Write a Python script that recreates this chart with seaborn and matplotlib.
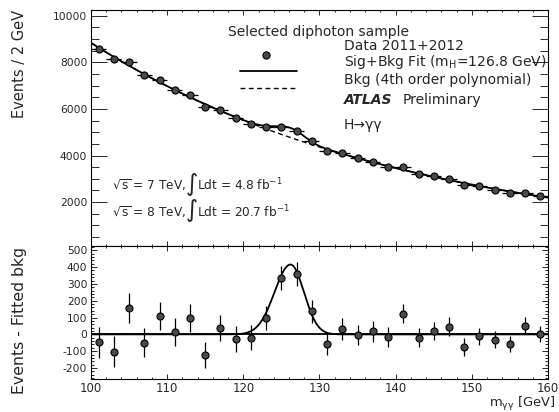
import numpy as np
import matplotlib
matplotlib.use("Agg")
import matplotlib.pyplot as plt
from matplotlib.ticker import MultipleLocator, FixedLocator
from matplotlib.lines import Line2D
import seaborn as sns

# Diphoton invariant mass spectrum, 2 GeV bins
mass = [101, 103, 105, 107, 109, 111, 113, 115, 117, 119,
        121, 123, 125, 127, 129, 131, 133, 135, 137, 139,
        141, 143, 145, 147, 149, 151, 153, 155, 157, 159]
events = [8582, 8129, 8009, 7438, 7253, 6826, 6598, 6079, 5953, 5617,
          5366, 5238, 5241, 5037, 4603, 4204, 4102, 3882, 3728, 3528,
          3506, 3210, 3105, 2993, 2739, 2677, 2538, 2398, 2399, 2248]
events_err = [93, 90, 89, 86, 85, 83, 81, 78, 77, 75,
              73, 72, 72, 71, 68, 65, 64, 62, 61, 59,
              59, 57, 56, 55, 52, 52, 50, 49, 49, 47]
# Data minus the fitted background component
residual = [-48, -102, 158, -50, 110, 12, 98, -122, 36, -28,
            -20, 98, 336, 356, 136, -60, 32, -4, 18, -14,
            124, -20, 20, 46, -76, -12, -32, -58, 52, 4]
bin_half_width = 1.0

# Signal component of the fit
MH = 126.8
SIG_PEAK_SHIFT = -0.6      # mode of the resolution shape sits below m_H
SIG_AMP = 415.0
SIG_SIGMA_LO = 2.1
SIG_SIGMA_HI = 1.75


def signal(x):
    mode = MH + SIG_PEAK_SHIFT
    sig = np.where(x < mode, SIG_SIGMA_LO, SIG_SIGMA_HI)
    return SIG_AMP * np.exp(-0.5 * ((x - mode) / sig) ** 2)


mass_a = np.array(mass, dtype=float)
events_a = np.array(events, dtype=float)
resid_a = np.array(residual, dtype=float)
err_a = np.array(events_err, dtype=float)

# 4th order polynomial background
bkg_coef = np.polyfit(mass_a, events_a - resid_a, 4)
xf = np.linspace(100, 160, 601)
bkg_curve = np.polyval(bkg_coef, xf)
sig_curve = signal(xf)

sns.set_theme(style="ticks")
plt.rcParams["font.family"] = ["DejaVu Sans"]
plt.rcParams["mathtext.default"] = "regular"
plt.rcParams["axes.linewidth"] = 0.8
plt.rcParams["axes.unicode_minus"] = False

W, H = 559, 412
fig = plt.figure(figsize=(W / 100, H / 100), dpi=100)
fig.patch.set_facecolor("white")


def fx(x):
    return x / W


def fy(y):
    return 1 - y / H


ax_top = fig.add_axes([fx(91), fy(246), (548 - 91) / W, (246 - 10) / H])
ax_bot = fig.add_axes([fx(91), fy(379), (548 - 91) / W, (379 - 246) / H])

mcol = "#4a4a4a"

# ---- upper panel: spectrum with fit
sns.lineplot(x=xf, y=bkg_curve, ax=ax_top, color="black", lw=1.0,
             linestyle=(0, (3.5, 2.5)), zorder=2)
sns.lineplot(x=xf, y=bkg_curve + sig_curve, ax=ax_top, color="black",
             lw=1.3, zorder=3)
ax_top.errorbar(mass_a, events_a, yerr=err_a, xerr=bin_half_width, fmt="none",
                ecolor="black", elinewidth=0.9, capsize=0, zorder=4)
sns.scatterplot(x=mass_a, y=events_a, ax=ax_top, s=26, color=mcol,
                edgecolor="black", linewidth=0.8, zorder=5)

ax_top.set_xlim(100, 160)
ax_top.set_ylim(116, 10245)
ax_top.yaxis.set_major_locator(FixedLocator([2000, 4000, 6000, 8000, 10000]))
ax_top.yaxis.set_minor_locator(MultipleLocator(500))
ax_top.xaxis.set_major_locator(MultipleLocator(10))
ax_top.xaxis.set_minor_locator(MultipleLocator(2))
ax_top.tick_params(axis="y", which="major", direction="in", left=True, right=True,
                   length=11.5, width=0.7, labelsize=7.7, pad=2.7)
ax_top.tick_params(axis="y", which="minor", direction="in", left=True, right=True,
                   length=5.8, width=0.7)
ax_top.tick_params(axis="x", which="major", direction="in", top=True, bottom=True,
                   length=3.4, width=0.7, labelbottom=False)
ax_top.tick_params(axis="x", which="minor", direction="in", top=True, bottom=True,
                   length=1.7, width=0.7)
ax_top.set_xlabel("")
ax_top.set_ylabel("")

# ---- lower panel: background-subtracted residuals
sns.lineplot(x=xf, y=np.zeros_like(xf), ax=ax_bot, color="black", lw=1.3, zorder=2)
sns.lineplot(x=xf, y=sig_curve, ax=ax_bot, color="black", lw=1.3, zorder=3)
ax_bot.errorbar(mass_a, resid_a, yerr=err_a, fmt="none", ecolor="black",
                elinewidth=0.9, capsize=0, zorder=4)
sns.scatterplot(x=mass_a, y=resid_a, ax=ax_bot, s=26, color=mcol,
                edgecolor="black", linewidth=0.8, zorder=5)

ax_bot.set_xlim(100, 160)
ax_bot.set_ylim(-265, 525)
ax_bot.yaxis.set_major_locator(MultipleLocator(100))
ax_bot.yaxis.set_minor_locator(MultipleLocator(20))
ax_bot.xaxis.set_major_locator(MultipleLocator(10))
ax_bot.xaxis.set_minor_locator(MultipleLocator(2))
ax_bot.tick_params(axis="y", which="major", direction="in", left=True, right=True,
                   length=4.3, width=0.7, labelsize=7.7, pad=2.7)
ax_bot.tick_params(axis="y", which="minor", direction="in", left=True, right=True,
                   length=2.2, width=0.7)
ax_bot.tick_params(axis="x", which="major", direction="in", top=True, bottom=True,
                   length=3.4, width=0.7, labelsize=8.4, pad=2.0)
ax_bot.tick_params(axis="x", which="minor", direction="in", top=True, bottom=True,
                   length=1.7, width=0.7)
ax_bot.set_xlabel("")
ax_bot.set_ylabel("")

for ax in (ax_top, ax_bot):
    for sp in ax.spines.values():
        sp.set_visible(True)
        sp.set_linewidth(0.8)
        sp.set_color("black")
    if ax.get_legend() is not None:
        ax.get_legend().remove()

# axis titles
fig.text(fx(20), fy(10), "Events / 2 GeV", rotation=90, ha="center", va="top",
         fontsize=10.5)
fig.text(fx(20), fy(247), "Events - Fitted bkg", rotation=90, ha="center", va="top",
         fontsize=11.3)
fig.text(fx(555), fy(404), r"m$_{\gamma\gamma}$ [GeV]", ha="right", va="center",
         fontsize=9.4)

# legend block
fig.text(fx(228), fy(32), "Selected diphoton sample", ha="left", va="center",
         fontsize=10)
ax_top.add_line(Line2D([(266 - 91) / 457], [1 - (55 - 10) / 236], marker="o",
                       markersize=5.2, markerfacecolor=mcol, markeredgecolor="black",
                       markeredgewidth=0.8, linestyle="none",
                       transform=ax_top.transAxes))
ax_top.add_line(Line2D([(240 - 91) / 457, (297 - 91) / 457],
                       [1 - (71 - 10) / 236] * 2, color="black", lw=1.3,
                       transform=ax_top.transAxes))
ax_top.add_line(Line2D([(240 - 91) / 457, (297 - 91) / 457],
                       [1 - (88 - 10) / 236] * 2, color="black", lw=1.0,
                       linestyle=(0, (3.5, 2.5)), transform=ax_top.transAxes))
fig.text(fx(344), fy(45.5), "Data 2011+2012", ha="left", va="center", fontsize=10)
fig.text(fx(344), fy(62), "Sig+Bkg Fit (m$_{H}$=%.1f GeV)" % MH, ha="left",
         va="center", fontsize=10)
fig.text(fx(344), fy(80), "Bkg (4th order polynomial)", ha="left", va="center",
         fontsize=10)
fig.text(fx(344), fy(100), "ATLAS", ha="left", va="center", fontsize=10,
         fontweight="bold", fontstyle="italic")
fig.text(fx(403), fy(100), "Preliminary", ha="left", va="center", fontsize=10)
fig.text(fx(344), fy(125), "H→γγ", ha="left", va="center", fontsize=10)

# luminosity lines
for yc, energy, lumi in ((185, 7, "4.8"), (212, 8, "20.7")):
    fig.text(fx(112), fy(yc), r"$\sqrt{s}$ = %d TeV," % energy, ha="left",
             va="center", fontsize=8.7)
    fig.text(fx(191), fy(yc - 1), r"$\int$", ha="center", va="center",
             fontsize=12)
    fig.text(fx(197), fy(yc), r"Ldt = %s fb$^{-1}$" % lumi, ha="left",
             va="center", fontsize=8.7)

fig.savefig("out.png", dpi=100, facecolor="white")
